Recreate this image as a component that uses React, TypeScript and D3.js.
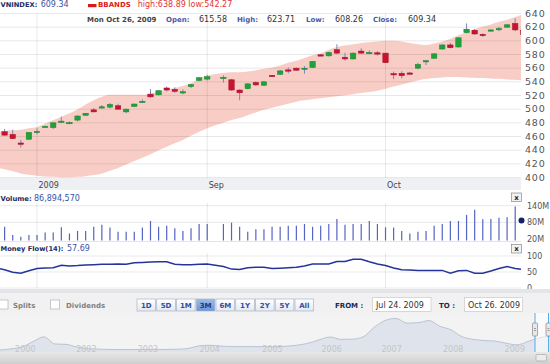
import React from "react";
import * as d3 from "d3";

// trading calendar (Vietnam National Day closed the market)
const HOLIDAYS = ["2009-09-02"];
const fmt = d3.timeFormat("%Y-%m-%d");
const slots = d3.timeDay
  .range(new Date(2009, 6, 27), new Date(2009, 9, 27))
  .filter((d) => d.getDay() !== 0 && d.getDay() !== 6)
  .map(fmt);
const days = slots.filter((s) => !HOLIDAYS.includes(s));

const open = [
  470, 467, 463, 450.5, 456, 466, 474, 473, 482, 480, 484, 491, 499, 502, 503, 505, 496, 504, 511, 522,
  521, 531, 529, 525, 533, 542, 544, 546, 543, 528, 530, 539, 535, 549.5, 551, 557.5, 560, 559, 561, 579.5,
  578, 587, 576, 573.5, 585, 582, 582.5, 582, 552, 552.5, 553, 560, 570, 574.5, 588, 594, 591, 612, 615.5, 609.5,
  615.5, 617, 620, 625.5, 615.58,
];
const high = [
  472, 471, 470, 455, 466, 472, 476, 480.5, 489, 482, 491, 494.5, 501.5, 506, 509, 508, 501, 508.5, 514.5, 529.5,
  528, 533, 532, 529, 537, 547, 550.5, 549.5, 544, 529, 538, 541, 541, 550, 557.5, 561, 561, 563, 570.5, 580.5,
  584, 595, 582.5, 583, 589, 586, 585, 582.5, 555, 555.5, 554.5, 568, 572, 581.5, 595, 597, 605, 625.5, 617.5, 611,
  617, 620.5, 624, 633, 623.71,
];
const low = [
  465, 461, 456, 444, 455, 463, 473, 471, 480, 478.5, 482, 490, 495.5, 501, 501, 499, 494, 503, 509, 517,
  520, 526, 524, 522, 531, 541, 542, 539, 527, 513, 529, 534, 534, 547, 550, 552.5, 556, 552, 560.5, 578,
  577, 581, 571, 572.5, 581, 580.5, 578.5, 567.5, 544, 545, 551, 558.5, 564.5, 574, 587, 589, 590, 611, 609, 606,
  614.5, 614, 619, 614, 608.26,
];
const close = [
  467, 462, 457, 450, 466, 467.5, 475, 480, 482.5, 480.5, 490, 494, 496, 503.5, 507, 500, 500, 507.5, 511.5, 518,
  527, 528, 526, 525.5, 536, 546, 547.5, 546.5, 528, 524, 537, 535.5, 540, 548, 556, 556.5, 557, 560, 570, 579,
  583, 582, 573.5, 582, 582, 583, 581, 568, 551, 549, 552, 565.5, 571, 581, 594, 590, 604.5, 617, 610, 607.5,
  616, 618, 623.5, 616, 609.34,
];
// millions of shares
const volumeM = [
  50, 64, 34, 28, 34, 34, 43, 43, 62, 40, 49, 49, 64, 71, 61, 46, 46, 46, 61, 85,
  64, 68, 59, 49, 59, 74, 74, 74, 79, 64, 46, 55, 55, 64, 64, 68, 68, 74, 64, 68,
  74, 92, 71, 74, 74, 85, 74, 62, 61, 49, 40, 46, 49, 68, 74, 85, 85, 107, 125, 91,
  92, 97, 98, 137, 86.89457,
];
const moneyFlow = [
  62, 57, 49, 46, 54, 61, 62.5, 63.5, 71, 69, 70, 72, 73, 74, 74, 75, 74, 79, 80, 81,
  82, 82, 74, 73, 73, 74, 75, 67, 59, 58, 63.5, 65, 65, 61, 62, 63.5, 65, 69, 75, 75,
  75, 83, 83, 90, 90, 82, 75, 70, 62.5, 57, 56, 55, 55, 55, 55, 46, 54, 55, 46, 46,
  53, 61, 67, 61, 57.69,
];
const bbUpper = [
  467, 468, 469, 470, 472, 474, 479, 484, 489, 494, 500, 507, 513, 518, 521, 521, 521, 521, 521, 523,
  526, 528, 531, 534, 538, 545, 549, 553, 554, 554, 555, 557, 559, 561, 564, 568, 571, 575, 579, 582,
  587, 591, 593, 595, 597, 598, 599, 600, 600, 599, 597, 595, 594, 596, 599, 603, 608, 613, 617, 621,
  624, 628, 631, 635, 638.89,
];
const bbLower = [
  415, 412, 409, 406, 404, 402.5, 401.5, 401, 400.5, 400.5, 401, 402, 403.5, 406, 410, 414, 419, 424, 429, 434,
  440, 445, 450, 455, 461, 467, 472, 480, 484, 487, 491, 495, 499, 502, 505, 508, 511, 513, 514.5, 516,
  517.5, 519, 520.5, 522, 523.5, 525, 527, 530, 533, 536, 539, 542, 544, 545.5, 546.5, 547, 547, 546.5, 546, 545.5,
  545, 544.5, 543.5, 543, 542.27,
];

const priceTicks = [640, 620, 600, 580, 560, 540, 520, 500, 480, 460, 440, 420, 400];
const volumeTicks = [140, 80, 20];
const mfTicks = [100, 50, 0];
const monthTickDays = ["2009-08-03", "2009-09-01", "2009-10-01"];
const monthTickLabels = ["2009", "Sep", "Oct"];
const rangeButtons = ["1D", "5D", "1M", "3M", "6M", "1Y", "2Y", "5Y", "All"];
const activeRange = "3M";

// long-history navigator (index level, sampled evenly 2000 -> 2009)
const navHistory = [
  69, 108, 175, 360, 525, 278, 265, 170, 115, 100, 87, 87, 87, 87, 87, 88, 95, 115, 205, 235,
  208, 188, 186, 188, 184, 184, 200, 235, 302, 420, 520, 438, 445, 520, 850, 1090, 1165, 1000, 1015, 1090,
  890, 770, 531, 440, 398, 380, 305, 248, 365, 490, 555,
];
const navYears = ["2000", "2002", "2003", "2004", "2005", "2006", "2007", "2008", "2009"];
const navYearAt = [2.3, 7.85, 13.45, 19.06, 24.77, 30.15, 35.6, 41.2, 46.8];

const FONT = "DejaVu Sans, Verdana, sans-serif";
const PLOT_R = 521;

export default function App() {
  const x = d3.scalePoint<string>().domain(slots).range([-3.5, 523.3]);
  const yP = d3.scaleLinear().domain([400, 640]).range([177.5, 13.5]);
  const yV = d3.scaleLinear().domain([20, 140]).range([239, 205.7]);
  const yM = d3.scaleLinear().domain([0, 100]).range([288, 256]);
  const xN = d3.scaleLinear().domain([0, navHistory.length - 1]).range([0, 550]);
  const yN = d3.scaleLinear().domain([0, 1200]).range([352, 317.4]);

  const last = days.length - 1;
  const band = d3
    .area<number>()
    .x((i) => x(days[i])!)
    .y0((i) => yP(bbLower[i]))
    .y1((i) => yP(bbUpper[i]))
    .curve(d3.curveMonotoneX);
  const mfLine = d3
    .line<number>()
    .x((i) => x(days[i])!)
    .y((i) => yM(moneyFlow[i]));
  const navArea = d3
    .area<number>()
    .x((v, i) => xN(i))
    .y0(352)
    .y1((v) => yN(v))
    .curve(d3.curveMonotoneX);
  const navLine = d3
    .line<number>()
    .x((v, i) => xN(i))
    .y((v) => yN(v))
    .curve(d3.curveMonotoneX);
  const idx = days.map((d, i) => i);
  const bw = 5.4;

  const bold = { fontFamily: FONT, fontWeight: 700, fontSize: 7 };
  const reg = { fontFamily: FONT, fontSize: 8 };
  const f2 = (v: number) => v.toFixed(2);

  return (
    <svg width={550} height={364} style={{ position: "absolute", left: 0, top: 0, background: "#fff" }}>
      <defs>
        <clipPath id="plot">
          <rect x={0} y={0} width={PLOT_R} height={364} />
        </clipPath>
        <linearGradient id="btn" x1="0" y1="0" x2="0" y2="1">
          <stop offset="0" stopColor="#ffffff" />
          <stop offset="1" stopColor="#e4e8ef" />
        </linearGradient>
        <linearGradient id="btnOn" x1="0" y1="0" x2="0" y2="1">
          <stop offset="0" stopColor="#9cbce8" />
          <stop offset="1" stopColor="#6a95d6" />
        </linearGradient>
        <linearGradient id="scroll" x1="0" y1="0" x2="0" y2="1">
          <stop offset="0" stopColor="#e8e8e8" />
          <stop offset="1" stopColor="#cfcfcf" />
        </linearGradient>
      </defs>

      {/* main price panel */}
      <g clipPath="url(#plot)">
        <path d={band(idx)!} fill="#f8cdc6" />
        {priceTicks.map((t) => (
          <line key={t} x1={0} x2={PLOT_R} y1={yP(t)} y2={yP(t)} stroke="rgba(0,0,0,0.09)" />
        ))}
        {monthTickDays.map((d) => (
          <g key={d}>
            <line x1={x(d)} x2={x(d)} y1={13.5} y2={178} stroke="rgba(0,0,0,0.09)" />
            <line x1={x(d)} x2={x(d)} y1={203} y2={241.5} stroke="rgba(0,0,0,0.09)" />
            <line x1={x(d)} x2={x(d)} y1={253} y2={288} stroke="rgba(0,0,0,0.09)" />
          </g>
        ))}
        {days.map((d, i) => {
          const cx = x(d)!;
          const up = close[i] >= open[i];
          const top = yP(Math.max(open[i], close[i]));
          const h = Math.max(1.3, Math.abs(yP(open[i]) - yP(close[i])));
          return (
            <g key={d}>
              <line x1={cx} x2={cx} y1={yP(high[i])} y2={yP(low[i])} stroke="#7c84c8" strokeWidth={1} />
              <rect
                x={cx - bw / 2}
                y={top}
                width={bw}
                height={h}
                fill={up ? "#1fa23a" : "#c8142e"}
                stroke={up ? "#17882d" : "#a80f24"}
                strokeWidth={0.5}
              />
            </g>
          );
        })}
      </g>

      {/* header */}
      <text x={0.5} y={7.3} style={{ ...bold, fontSize: 6.7 }} fill="#1c2a5e">VNINDEX:</text>
      <text x={40.7} y={7.3} style={reg} fill="#3a52a3">{f2(close[last])}</text>
      <rect x={88} y={4} width={8.5} height={3.2} fill="#d41a1a" />
      <text x={98} y={7.3} style={bold} fill="#dd2020">BBANDS</text>
      <text x={137.7} y={7.3} style={reg} fill="#e03535">
        {`high:${f2(bbUpper[last])} low:${f2(bbLower[last])}`}
      </text>

      <text x={87} y={21.7} style={bold} fill="#444">Mon Oct 26, 2009</text>
      <text x={166} y={21.7} style={bold} fill="#4a5ba6">Open:</text>
      <text x={199} y={21.7} style={reg} fill="#333">{f2(open[last])}</text>
      <text x={237} y={21.7} style={bold} fill="#4a5ba6">High:</text>
      <text x={267} y={21.7} style={reg} fill="#333">{f2(high[last])}</text>
      <text x={306} y={21.7} style={bold} fill="#4a5ba6">Low:</text>
      <text x={335} y={21.7} style={reg} fill="#333">{f2(low[last])}</text>
      <text x={373} y={21.7} style={bold} fill="#4a5ba6">Close:</text>
      <text x={408} y={21.7} style={reg} fill="#333">{f2(close[last])}</text>

      {/* price axis */}
      {priceTicks.map((t) => (
        <text key={t} x={525} y={yP(t)} dy="0.35em" style={{ fontFamily: FONT, fontSize: 9.5, letterSpacing: 0.8 }} fill="#555">
          {t}
        </text>
      ))}

      {/* time axis strip */}
      <rect x={0} y={178} width={PLOT_R} height={12} fill="#eef0f3" />
      {monthTickDays.map((d, i) => (
        <text key={d} x={x(d)! + 1.5} y={188} style={reg} fill="#444">
          {monthTickLabels[i]}
        </text>
      ))}

      {/* volume panel */}
      <text x={0.5} y={200.5} style={{ ...bold, fontSize: 6.8 }} fill="#1c2a5e">Volume:</text>
      <text x={34} y={200.5} style={reg} fill="#3a52a3">{d3.format(",")(Math.round(volumeM[last] * 1e6))}</text>
      {volumeTicks.slice(0, 2).map((t) => (
        <line key={t} x1={0} x2={PLOT_R} y1={yV(t)} y2={yV(t)} stroke="rgba(0,0,0,0.09)" />
      ))}
      <line x1={0} x2={PLOT_R} y1={241.5} y2={241.5} stroke="rgba(0,0,0,0.1)" />
      <g clipPath="url(#plot)">
        {days.map((d, i) => (
          <line key={d} x1={x(d)} x2={x(d)} y1={yV(volumeM[i])} y2={240.5} stroke="#5563c4" strokeWidth={1.2} />
        ))}
      </g>
      <circle cx={521.5} cy={yV(volumeM[last])} r={3} fill="#14206a" />
      {volumeTicks.map((t) => (
        <text key={t} x={527} y={yV(t)} dy="0.35em" style={reg} fill="#555">
          {t}M
        </text>
      ))}
      <rect x={511.5} y={193} width={10} height={8.5} fill="#f2f2f2" stroke="#8a8a8a" strokeWidth={0.7} />
      <text x={516.5} y={199.8} textAnchor="middle" style={bold} fill="#222">x</text>

      {/* money flow panel */}
      <text x={0.5} y={251} style={{ ...bold, fontSize: 6.7 }} fill="#1c2a5e">Money Flow(14):</text>
      <text x={67} y={251} style={reg} fill="#3a52a3">{f2(moneyFlow[last])}</text>
      {mfTicks.map((t) => (
        <line key={t} x1={0} x2={PLOT_R} y1={yM(t)} y2={yM(t)} stroke="rgba(0,0,0,0.09)" />
      ))}
      <g clipPath="url(#plot)">
        <path d={mfLine(idx)!} fill="none" stroke="#26349a" strokeWidth={1.5} />
      </g>
      {mfTicks.map((t) => (
        <text key={t} x={527} y={yM(t)} dy="0.35em" style={reg} fill="#555">
          {t}
        </text>
      ))}
      <rect x={511.5} y={244.5} width={10} height={8.5} fill="#f2f2f2" stroke="#8a8a8a" strokeWidth={0.7} />
      <text x={516.5} y={251.3} textAnchor="middle" style={bold} fill="#222">x</text>

      {/* control bar */}
      <rect x={0} y={289} width={550} height={4} fill="#e3e5e9" />
      <rect x={0} y={293} width={550} height={20} fill="#f1f1f1" />
      <rect x={-1} y={300} width={9} height={9} fill="#fff" stroke="#bbb" strokeWidth={0.8} />
      <text x={13} y={307.5} style={bold} fill="#808080">Splits</text>
      <rect x={50.5} y={300} width={9} height={9} fill="#fff" stroke="#bbb" strokeWidth={0.8} />
      <text x={66} y={307.5} style={bold} fill="#808080">Dividends</text>
      {rangeButtons.map((b, i) => {
        const bx = 137 + i * 19.75;
        const on = b === activeRange;
        return (
          <g key={b}>
            <rect x={bx} y={299} width={18.6} height={12} fill={on ? "url(#btnOn)" : "url(#btn)"} stroke="#a9b4c8" strokeWidth={0.7} />
            <text x={bx + 9.3} y={307.6} textAnchor="middle" style={bold} fill={on ? "#1b3680" : "#2d4f9e"}>
              {b}
            </text>
          </g>
        );
      })}
      <text x={335} y={307.5} style={bold} fill="#1c2a4e">FROM :</text>
      <rect x={372.5} y={297.5} width={58.5} height={14} fill="#fff" stroke="#cfcfcf" strokeWidth={0.8} />
      <text x={376} y={307.5} style={reg} fill="#333">Jul 24. 2009</text>
      <text x={439} y={307.5} style={bold} fill="#1c2a4e">TO :</text>
      <rect x={464.5} y={297.5} width={58} height={14} fill="#fff" stroke="#cfcfcf" strokeWidth={0.8} />
      <text x={468} y={307.5} style={reg} fill="#333">Oct 26. 2009</text>

      {/* navigator */}
      <rect x={0} y={313} width={550} height={39} fill="#f3f3f3" />
      <path d={navArea(navHistory)!} fill="#dfe4ec" />
      <path d={navLine(navHistory)!} fill="none" stroke="#b9c3d2" strokeWidth={1} />
      {navYears.map((yr, i) => (
        <text key={yr} x={xN(navYearAt[i])} y={351.5} textAnchor="middle" style={reg} fill="#c4c4c4">
          {yr}
        </text>
      ))}
      <rect x={535} y={313} width={13.5} height={39} fill="#ffffff" opacity={0.55} />
      <line x1={535} x2={535} y1={313} y2={352} stroke="#4fb0e6" strokeWidth={1} />
      <line x1={548.5} x2={548.5} y1={313} y2={352} stroke="#4fb0e6" strokeWidth={1} />
      {[535, 548.5].map((hx) => (
        <g key={hx}>
          <rect x={hx - 2.5} y={323} width={5} height={13} rx={1} fill="#e8e8e8" stroke="#888" strokeWidth={0.7} />
          <line x1={hx - 1} x2={hx + 1} y1={328.5} y2={328.5} stroke="#666" strokeWidth={0.6} />
          <line x1={hx - 1} x2={hx + 1} y1={330.5} y2={330.5} stroke="#666" strokeWidth={0.6} />
        </g>
      ))}
      <rect x={0} y={352} width={550} height={12} fill="url(#scroll)" />
      <rect x={536} y={354.5} width={10.5} height={6.5} rx={1} fill="#ececec" stroke="#a0a0a0" strokeWidth={0.6} />
    </svg>
  );
}
